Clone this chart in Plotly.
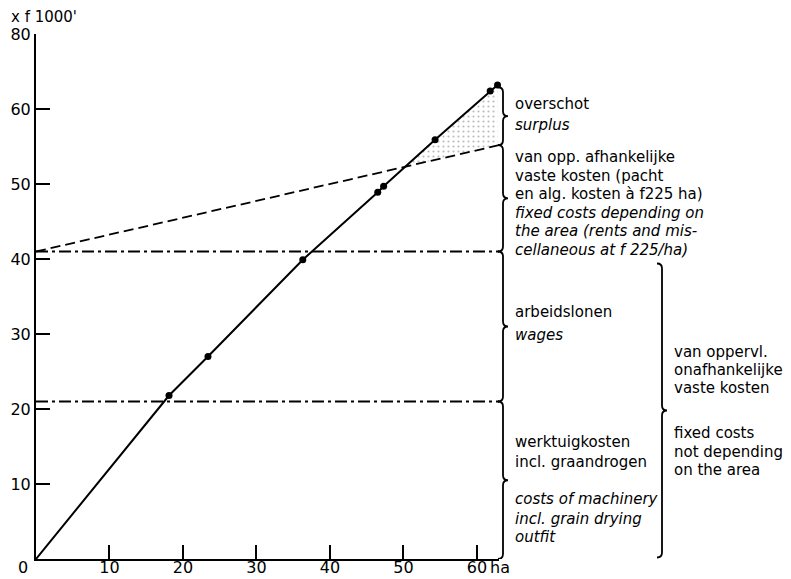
import numpy as np
import plotly.graph_objects as go

# ---------------- data ----------------
area_ha = [0, 18.1, 23.4, 36.3, 46.5, 47.3, 54.3, 61.8, 62.8]
revenue = [0, 21.8, 27.0, 39.9, 48.9, 49.7, 55.9, 62.4, 63.2]   # x f 1000
machinery_level = 21.0        # werktuigkosten (cumulative level)
wages_level = 41.0            # + arbeidslonen (cumulative level)
area_cost_per_ha = 0.225      # f 225 / ha, in f 1000
x_end = 63.0

x_tick_vals = [10, 20, 30, 40, 50, 60]
x_tick_text = ["10", "20", "30", "40", "50", "60"]
y_tick_vals = [10, 20, 30, 40, 50, 60, 70]
y_tick_text = ["10", "20", "30", "40", "50", "60", "80"]

FONT = "DejaVu Sans"
OFF = 8                      # default page body margin
W, H = 791 - OFF, 579 - OFF
L, R, T, B = 36 - OFF, 292, 34 - OFF, 20
PW, PH = W - L - R, H - T - B

def px_to_paper_x(px):
    return (px - OFF - L) / PW

def py_to_paper_y(py):
    return (H - B - (py - OFF)) / PH

fig = go.Figure()

# dashed line: area dependent fixed costs
dash_x = np.array([0.0, x_end])
dash_y = wages_level + area_cost_per_ha * dash_x

# shaded surplus area between revenue and dashed line
ax = np.array(area_ha, dtype=float)
ay = np.array(revenue, dtype=float)
diff = ay - (wages_level + area_cost_per_ha * ax)
i = int(np.argmax(diff > 0))
x0, x1 = ax[i - 1], ax[i]
d0, d1 = diff[i - 1], diff[i]
xc = x0 + (x1 - x0) * (-d0) / (d1 - d0)
yc = wages_level + area_cost_per_ha * xc
poly_x = [xc] + list(ax[i:]) + [ax[-1], xc]
poly_y = [yc] + list(ay[i:]) + [wages_level + area_cost_per_ha * ax[-1], yc]
fig.add_trace(go.Scatter(
    x=poly_x, y=poly_y, mode="lines", fill="toself",
    line=dict(width=0, color="rgba(0,0,0,0)"),
    fillcolor="rgba(0,0,0,0)",
    fillpattern=dict(shape=".", size=5, solidity=0.15, fgcolor="#777", bgcolor="white"),
    hoverinfo="skip", showlegend=False))

# horizontal dash-dot lines
for lvl in (machinery_level, wages_level):
    fig.add_trace(go.Scatter(
        x=[0, x_end], y=[lvl, lvl], mode="lines",
        line=dict(color="black", width=1.8, dash="12px,4px,3px,4px"),
        hoverinfo="skip", showlegend=False))

fig.add_trace(go.Scatter(
    x=dash_x, y=dash_y, mode="lines",
    line=dict(color="black", width=1.8, dash="10px,5px"),
    hoverinfo="skip", showlegend=False))

# revenue line with points
fig.add_trace(go.Scatter(
    x=area_ha, y=revenue, mode="lines",
    line=dict(color="black", width=2), showlegend=False, cliponaxis=False))
fig.add_trace(go.Scatter(
    x=area_ha[1:], y=revenue[1:], mode="markers",
    marker=dict(color="black", size=7), showlegend=False, cliponaxis=False))

# ---------------- braces ----------------
def brace(xp_px, ybot, ytop, d=5, hpx=5):
    xp = px_to_paper_x(xp_px)
    dx = d / PW
    hy = hpx * 70.0 / PH
    mid = (ybot + ytop) / 2
    path = (f"M {xp-dx},{ytop} Q {xp},{ytop} {xp},{ytop-hy} "
            f"L {xp},{mid+hy} Q {xp},{mid} {xp+dx},{mid} "
            f"Q {xp},{mid} {xp},{mid-hy} "
            f"L {xp},{ybot+hy} Q {xp},{ybot} {xp-dx},{ybot}")
    fig.add_shape(type="path", path=path, xref="paper", yref="y",
                  line=dict(color="black", width=1.8), layer="above")

top_dash = wages_level + area_cost_per_ha * x_end
brace(503, top_dash, revenue[-1] - 0.3)
brace(503, wages_level, top_dash)
brace(503, machinery_level, wages_level)
brace(503, 0, machinery_level)
brace(662, 0.2, wages_level - 1.6)

# ---------------- texts ----------------
labels = [
    ("overschot", 513, 104, False),
    ("surplus", 513, 125, True),
    ("van opp. afhankelijke", 513, 157, False),
    ("vaste kosten (pacht", 513, 176, False),
    ("en alg. kosten à f225 ha)", 513, 194, False),
    ("fixed costs depending on", 513, 213, True),
    ("the area (rents and mis-", 513, 231, True),
    ("cellaneous at f 225/ha)", 513, 250, True),
    ("arbeidslonen", 513, 312, False),
    ("wages", 513, 335, True),
    ("werktuigkosten", 513, 442, False),
    ("incl. graandrogen", 513, 462, False),
    ("costs of machinery", 513, 499, True),
    ("incl. grain drying", 513, 519, True),
    ("outfit", 513, 537, True),
    ("van oppervl.", 672, 352, False),
    ("onafhankelijke", 672, 370, False),
    ("vaste kosten", 672, 388, False),
    ("fixed costs", 672, 433, False),
    ("not depending", 672, 452, False),
    ("on the area", 672, 470, False),
]
for txt, px, py, it in labels:
    fig.add_annotation(
        text=f"<i>{txt}</i>" if it else txt,
        x=px_to_paper_x(px), y=py_to_paper_y(py), xref="paper", yref="paper",
        xanchor="left", yanchor="middle", showarrow=False,
        font=dict(family=FONT, size=15, color="black"))

fig.add_annotation(text="x f 1000'", x=px_to_paper_x(9), y=py_to_paper_y(17),
                   xref="paper", yref="paper", xanchor="left", yanchor="middle",
                   showarrow=False, font=dict(family=FONT, size=15, color="black"))
fig.add_annotation(text="0", x=px_to_paper_x(23), y=py_to_paper_y(567),
                   xref="paper", yref="paper", xanchor="center", yanchor="middle",
                   showarrow=False, font=dict(family=FONT, size=16, color="black"))
fig.add_annotation(text="ha", x=px_to_paper_x(488), y=py_to_paper_y(567),
                   xref="paper", yref="paper", xanchor="left", yanchor="middle",
                   showarrow=False, font=dict(family=FONT, size=16, color="black"))

fig.update_xaxes(range=[0, x_end], showgrid=False, zeroline=False, automargin=False,
                 showline=True, linecolor="black", linewidth=2,
                 ticks="inside", ticklen=14, tickwidth=2, tickcolor="black",
                 tickvals=x_tick_vals, ticktext=x_tick_text, ticklabelstandoff=-7,
                 tickfont=dict(family=FONT, size=16, color="black"))
fig.update_yaxes(range=[0, 70], showgrid=False, zeroline=False, automargin=False,
                 showline=True, linecolor="black", linewidth=2,
                 ticks="inside", ticklen=14, tickwidth=2, tickcolor="black",
                 tickvals=y_tick_vals, ticktext=y_tick_text, ticklabelstandoff=0,
                 tickfont=dict(family=FONT, size=16, color="black"))

fig.update_layout(width=W, height=H, autosize=False,
                  margin=dict(l=L, r=R, t=T, b=B, pad=0),
                  plot_bgcolor="white", paper_bgcolor="white",
                  showlegend=False)

fig.write_html("out.html")
